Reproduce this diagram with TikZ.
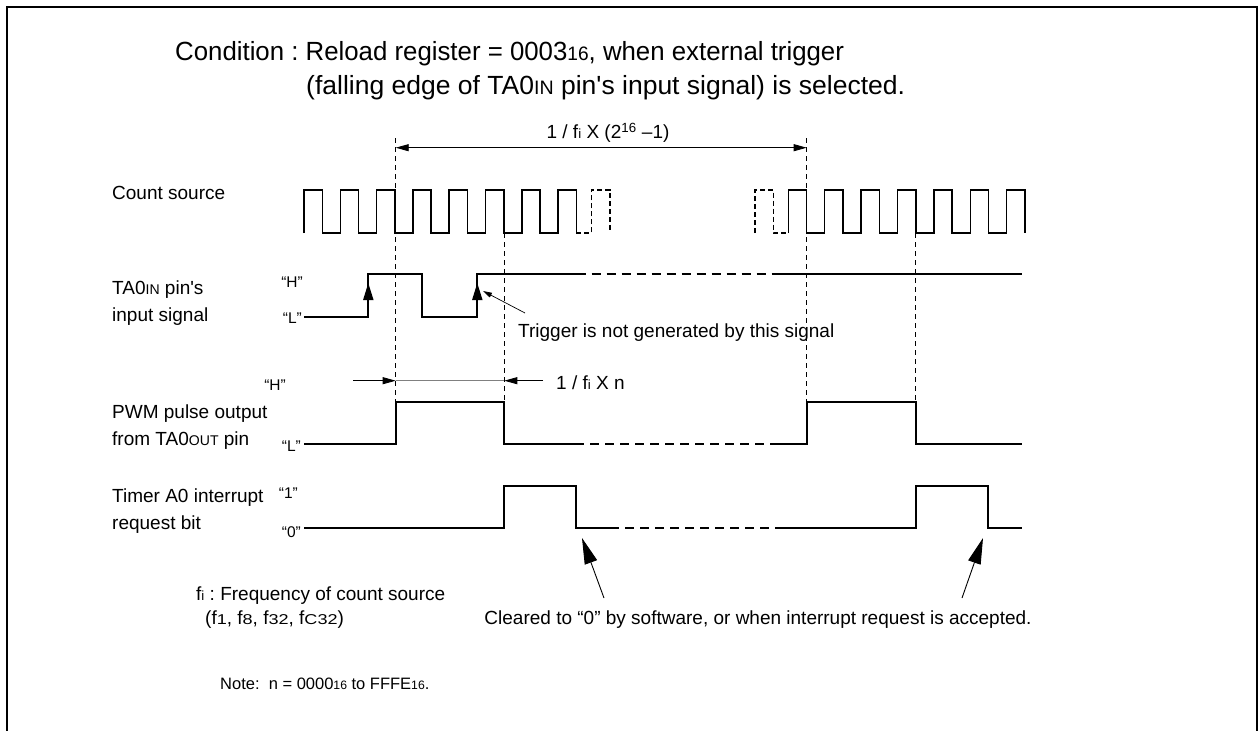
\documentclass[tikz,border=0pt]{standalone}
\usepackage{fontspec}
\setmainfont{Liberation Sans}
\usepackage{graphicx}
\usetikzlibrary{arrows.meta}
\frenchspacing
\newcommand{\sm}[1]{\scalebox{0.74}{#1}}
\newcommand{\fsub}[1]{f\scalebox{0.7}{#1}}
\newcommand{\fwide}[1]{f\scalebox{0.95}[0.75]{#1}}
\begin{document}
\begin{tikzpicture}[x=1pt,y=-1pt,
  sig/.style={line width=1.8pt},
  clk/.style={line width=1.5pt},
  guide/.style={line width=0.8pt, dash pattern=on 5pt off 4pt},
  sigdash/.style={line width=1.8pt, dash pattern=on 9pt off 6pt},
  lab/.style={anchor=west, inner sep=0pt, align=left, font=\fontsize{19}{27}\selectfont},
  lvl/.style={anchor=east, inner sep=0pt, font=\fontsize{15.5}{18}\selectfont},
  title/.style={anchor=west, inner sep=0pt, font=\fontsize{26.3}{30}\selectfont},
  note/.style={anchor=west, inner sep=0pt, font=\fontsize{19}{24}\selectfont},
  dimarrow/.style={line width=0.9pt, {Triangle[length=13pt,width=7pt]}-{Triangle[length=13pt,width=7pt]}},
  onearrow/.style={line width=0.9pt, -{Triangle[length=13pt,width=7pt]}},
  edgearrow/.style={line width=1.8pt, -{Triangle[length=17pt,width=10pt]}},
  bigarrow/.style={line width=0.9pt, -{Triangle[length=26pt,width=13pt]}},
]
\useasboundingbox (0,0) rectangle (1259,731);
% frame (open at the bottom)
\draw[line width=2pt] (7,731) -- (7,7) -- (1257,7) -- (1257,731);

% title
\node[title] (t1) at (175,54) {\scalebox{0.981}[1]{Condition : Reload register = 0003\sm{16}, when external trigger}};
\node[title] (t2) at (306,88) {\scalebox{1.008}[1]{(falling edge of TA0\sm{IN} pin\textquotesingle s input signal) is selected.}};

% left labels
\node[lab] (lcs) at (112,193) {Count source};
\node[lab] (lta) at (112,303) {TA0\sm{IN} pin\textquotesingle s\\input signal};
\node[lab] (lpwm) at (112,427) {PWM pulse output\\from TA0\sm{OUT} pin};
\node[lab] (ltim) at (112,511) {Timer A0 interrupt\\request bit};

% level labels
\node[lvl] (th) at (303,282) {“H”};
\node[lvl] (tl) at (302,318) {“L”};
\node[lvl] (ph) at (286,385) {“H”};
\node[lvl] (pl) at (301,446) {“L”};
\node[lvl] (r1) at (298,493) {“1”};
\node[lvl] (r0) at (301,532) {“0”};

% guide lines
\coordinate (g1t) at (395.7,138);
\coordinate (g1b) at (395.7,401.7);
\coordinate (g2t) at (504.3,233);
\coordinate (g2b) at (504.3,401.7);
\coordinate (g3t) at (806.7,138);
\coordinate (g3b) at (806.7,401.7);
\coordinate (g4t) at (915.7,233);
\coordinate (g4b) at (915.7,401.7);
\draw[guide] (g1t) -- (g1b);
\draw[guide] (g2t) -- (g2b);
\draw[guide] (g3t) -- (g3b);
\draw[guide] (g4t) -- (g4b);

% period dimension
\coordinate (d1a) at (395.7,147.7);
\coordinate (d1b) at (806.7,147.7);
\draw[dimarrow] (d1a) -- (d1b);
\node[note, anchor=center] (dlab) at (608,133) {1 / \fsub{i} X (2\textsuperscript{16} –1)};

% count source
\draw[clk] (304,233) \foreach \k in {0,...,6} { -- ++(0,-43) -- ++(18.3,0) -- ++(0,43) -- ++(18,0) } -- ++(0,-43) -- ++(18.3,0) -- ++(0,43);
\draw[clk, dash pattern=on 5pt off 3pt] (576.4,233) -- (591.7,233) -- (591.7,190) -- (610,190) -- (610,233);
\draw[clk, dash pattern=on 5pt off 3pt] (755,233) -- (755,190) -- (773.3,190) -- (773.3,233) -- (788.3,233);
\draw[clk] (788.3,233) \foreach \k in {0,...,5} { -- ++(0,-43) -- ++(18.3,0) -- ++(0,43) -- ++(18.1,0) } -- ++(0,-43) -- ++(18.3,0) -- ++(0,43);

% TA0IN input signal
\draw[sig] (304,317.3) -- (368.3,317.3) -- (368.3,274.3) -- (421.7,274.3) -- (421.7,317.3) -- (477.3,317.3) -- (477.3,274.3) -- (576.7,274.3);
\draw[sigdash] (576.7,274.3) -- (778,274.3);
\draw[sig] (778,274.3) -- (1022,274.3);
\draw[edgearrow] (368.3,306) -- (368.3,283);
\draw[edgearrow] (477.3,306) -- (477.3,283);
\coordinate (trs) at (525,313);
\coordinate (tre) at (483,291);
\draw[line width=0.7pt, -{Triangle[length=9pt,width=5pt]}] (trs) -- (tre);
\node[note] (trig) at (518,333) {Trigger is not generated by this signal};

% 1/fi X n
\coordinate (na) at (353,380.7);
\coordinate (nb) at (395.7,380.7);
\coordinate (nc) at (504.3,380.7);
\coordinate (nd) at (543,380.7);
\draw[onearrow] (na) -- (nb);
\draw[onearrow] (nd) -- (nc);
\draw[line width=0.6pt, gray] (nb) -- (nc);
\node[note] (nlab) at (556,383) {1 / \fsub{i} X n};

% PWM output
\draw[sig] (304,444) -- (395.7,444) -- (395.7,401.7) -- (504.3,401.7) -- (504.3,444) -- (575,444);
\draw[sigdash] (575,444) -- (778,444);
\draw[sig] (778,444) -- (806.7,444) -- (806.7,401.7) -- (915.7,401.7) -- (915.7,444) -- (1021.7,444);

% interrupt request bit
\draw[sig] (304,528.3) -- (504.3,528.3) -- (504.3,486) -- (576,486) -- (576,528.3) -- (610,528.3);
\draw[sigdash] (610,528.3) -- (780,528.3);
\draw[sig] (780,528.3) -- (915.7,528.3) -- (915.7,486) -- (988,486) -- (988,528.3) -- (1021.7,528.3);

% cleared arrows
\coordinate (c1s) at (604,598);
\coordinate (c1e) at (582,538);
\coordinate (c2s) at (962,598);
\coordinate (c2e) at (983,538);
\draw[bigarrow] (c1s) -- (c1e);
\draw[bigarrow] (c2s) -- (c2e);
\node[note, anchor=center] (clr) at (758,620) {Cleared to “0” by software, or when interrupt request is accepted.};

% notes
\node[note] (fi) at (196,596) {\fsub{i} : Frequency of count source};
\node[note] (fl) at (205,620) {(\fwide{1}, \fwide{8}, \fwide{32}, \fwide{C32})};
\node[note, font=\fontsize{16.5}{20}\selectfont] (nt) at (220,684) {Note:\ \ n = 0000\sm{16} to FFFE\sm{16}.};
\end{tikzpicture}
\end{document}
